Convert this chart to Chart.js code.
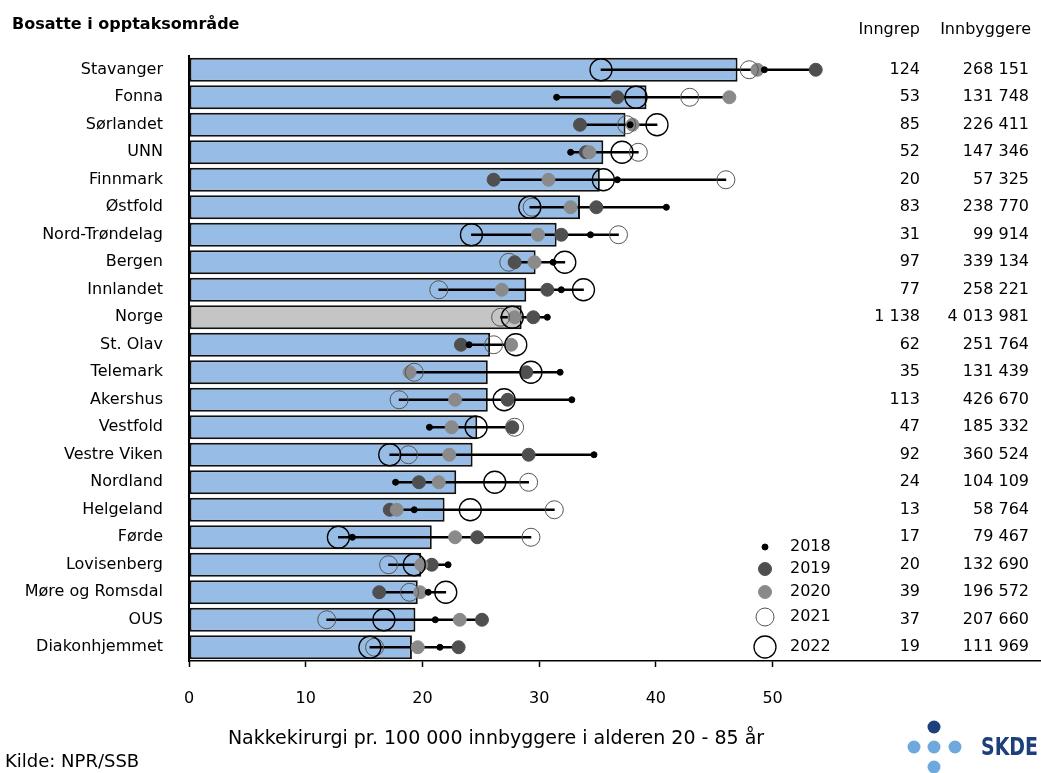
<!DOCTYPE html>
<html>
<head>
<meta charset="utf-8">
<script src="https://cdn.jsdelivr.net/npm/chart.js@4.4.1/dist/chart.umd.min.js"></script>
<style>
  body { margin: 0; background: #fff; }
</style>
</head>
<body>
<canvas id="myChart" width="1041" height="773"></canvas>
<script>
var labels = ['Stavanger', 'Fonna', 'Sørlandet', 'UNN', 'Finnmark', 'Østfold', 'Nord-Trøndelag', 'Bergen',
  'Innlandet', 'Norge', 'St. Olav', 'Telemark', 'Akershus', 'Vestfold', 'Vestre Viken', 'Nordland',
  'Helgeland', 'Førde', 'Lovisenberg', 'Møre og Romsdal', 'OUS', 'Diakonhjemmet'];

// rate per 100 000, average over the period (bars)
var rate = [47.0, 39.2, 37.4, 35.5, 35.2, 33.5, 31.5, 29.7, 28.9, 28.5, 25.8, 25.6, 25.6, 24.7, 24.3, 22.9, 21.9, 20.8, 19.9, 19.6, 19.4, 19.1];

// yearly rates
var y2018 = [49.3, 31.5, 37.8, 32.7, 36.7, 40.9, 34.4, 31.2, 31.9, 30.7, 24.0, 31.8, 32.8, 20.6, 34.7, 17.7, 19.3, 14.0, 22.2, 20.5, 21.1, 21.5];
var y2019 = [53.7, 36.7, 33.5, 34.0, 26.1, 34.9, 31.9, 27.9, 30.7, 29.5, 23.3, 28.9, 27.3, 27.7, 29.1, 19.7, 17.2, 24.7, 20.8, 16.3, 25.1, 23.1];
var y2020 = [48.7, 46.3, 38.0, 34.3, 30.8, 32.7, 29.9, 29.6, 26.8, 27.9, 27.6, 18.9, 22.8, 22.5, 22.3, 21.4, 17.8, 22.8, 19.9, 19.8, 23.2, 19.6];
var y2021 = [48.0, 42.9, 37.5, 38.5, 46.0, 29.4, 36.8, 27.4, 21.4, 26.7, 26.1, 19.3, 18.0, 27.9, 18.8, 29.1, 31.3, 29.3, 17.1, 18.9, 11.8, 15.9];
var y2022 = [35.3, 38.3, 40.1, 37.1, 35.5, 29.2, 24.2, 32.2, 33.8, 27.7, 28.0, 29.3, 27.0, 24.6, 17.2, 26.2, 24.1, 12.8, 19.3, 22.0, 16.7, 15.5];

var inngrep = [124, 53, 85, 52, 20, 83, 31, 97, 77, 1138, 62, 35, 113, 47, 92, 24, 13, 17, 20, 39, 37, 19];
var innbyggere = [268151, 131748, 226411, 147346, 57325, 238770, 99914, 339134, 258221, 4013981, 251764, 131439,
  426670, 185332, 360524, 104109, 58764, 79467, 132690, 196572, 207660, 111969];

var xTicks = [0, 10, 20, 30, 40, 50];

var FONT = '"DejaVu Sans", sans-serif';

function fmt(n) {
  return String(n).replace(/\B(?=(\d{3})+(?!\d))/g, ' ');
}

function pts(arr) {
  return arr.map(function(v, i) { return { x: v, y: labels[i] }; });
}

// min-max line for each row
var spread = labels.map(function(l, i) {
  var v = [y2018[i], y2019[i], y2020[i], y2021[i], y2022[i]];
  return [Math.min.apply(null, v), Math.max.apply(null, v)];
});

var barColors = labels.map(function(l) { return l == 'Norge' ? '#c5c5c5' : '#97bde6'; });

function yearSet(label, data, r, fill, stroke, bw, order) {
  return {
    type: 'line',
    label: label,
    data: pts(data),
    showLine: false,
    pointRadius: r,
    pointHoverRadius: r,
    pointBackgroundColor: fill,
    pointBorderColor: stroke,
    pointBorderWidth: bw,
    order: order
  };
}

var pointSets = [
  yearSet('2018', y2018, 3, '#000', '#000', 1, 1),
  yearSet('2019', y2019, 6.5, '#4f4f4f', '#4f4f4f', 1, 5),
  yearSet('2020', y2020, 6.5, '#8a8a8a', '#8a8a8a', 1, 4),
  yearSet('2021', y2021, 9, 'rgba(0,0,0,0)', '#555', 1, 3),
  yearSet('2022', y2022, 11, 'rgba(0,0,0,0)', '#000', 1.3, 2)
];

var legendY = [547, 569, 592, 617, 647];

var extras = {
  id: 'extras',
  afterDraw: function(chart) {
    var ctx = chart.ctx;
    var ys = chart.scales.y;
    ctx.save();
    ctx.fillStyle = '#000';
    ctx.textBaseline = 'middle';

    ctx.font = 'bold 16px ' + FONT;
    ctx.textAlign = 'left';
    ctx.fillText('Bosatte i opptaksområde', 12, 25);

    ctx.font = '16px ' + FONT;
    ctx.textAlign = 'right';
    ctx.fillText('Inngrep', 920, 30);
    ctx.fillText('Innbyggere', 1031, 30);
    labels.forEach(function(l, i) {
      var py = ys.getPixelForValue(i);
      ctx.fillText(fmt(inngrep[i]), 920, py);
      ctx.fillText(fmt(innbyggere[i]), 1029, py);
    });

    // legend
    ctx.textAlign = 'left';
    pointSets.forEach(function(ds, i) {
      ctx.beginPath();
      ctx.arc(765, legendY[i], ds.pointRadius, 0, Math.PI * 2);
      ctx.fillStyle = ds.pointBackgroundColor;
      ctx.fill();
      ctx.lineWidth = ds.pointBorderWidth;
      ctx.strokeStyle = ds.pointBorderColor;
      ctx.stroke();
      ctx.fillStyle = '#000';
      ctx.fillText(ds.label, 790, legendY[i]);
    });

    // axis title and source
    ctx.font = '19px ' + FONT;
    ctx.textAlign = 'center';
    ctx.fillText('Nakkekirurgi pr. 100 000 innbyggere i alderen 20 - 85 år', 496, 739);
    ctx.font = '18px ' + FONT;
    ctx.textAlign = 'left';
    ctx.fillText('Kilde: NPR/SSB', 5, 762);

    // SKDE logo
    ctx.fillStyle = '#1d3f7a';
    ctx.beginPath(); ctx.arc(934, 727, 6.5, 0, Math.PI * 2); ctx.fill();
    ctx.fillStyle = '#6fa8dc';
    [[914, 747], [934, 747], [955, 747], [934, 767]].forEach(function(p) {
      ctx.beginPath(); ctx.arc(p[0], p[1], 6.5, 0, Math.PI * 2); ctx.fill();
    });
    ctx.fillStyle = '#1d3f7a';
    ctx.font = 'bold 25px "DejaVu Sans Condensed", ' + FONT;
    ctx.fillText('SKDE', 981, 748, 57);
    ctx.restore();
  }
};

var ctx = document.getElementById('myChart').getContext('2d');
var chart = new Chart(ctx, {
  data: {
    labels: labels,
    datasets: [{
      type: 'bar',
      label: 'Rate',
      data: rate,
      indexAxis: 'y',
      grouped: false,
      backgroundColor: barColors,
      borderColor: '#111',
      borderWidth: 2,
      borderSkipped: false,
      barPercentage: 0.87,
      categoryPercentage: 1,
      order: 10
    }, {
      type: 'bar',
      label: 'Spenn',
      data: spread,
      indexAxis: 'y',
      grouped: false,
      backgroundColor: '#000',
      barThickness: 2,
      order: 9
    }].concat(pointSets)
  },
  options: {
    responsive: false,
    animation: false,
    layout: { autoPadding: false, padding: { top: 56, left: 0, right: 0, bottom: 0 } },
    plugins: {
      legend: { display: false },
      tooltip: { enabled: false }
    },
    scales: {
      x: {
        type: 'linear',
        min: 0,
        max: 73,
        afterBuildTicks: function(s) {
          s.ticks = xTicks.map(function(v) { return { value: v }; });
        },
        afterFit: function(s) {
          s.height = 112;
          s.paddingRight = 0;
          s.paddingLeft = 0;
        },
        ticks: { color: '#000', font: { family: FONT, size: 16 }, padding: 22, maxRotation: 0 },
        grid: { drawOnChartArea: false, tickLength: 6, color: '#000', tickWidth: 1.5 },
        border: { color: '#000', width: 1.5 }
      },
      y: {
        type: 'category',
        offset: true,
        afterFit: function(s) { s.width = 189; },
        ticks: { color: '#000', font: { family: FONT, size: 16 }, padding: 26 },
        grid: { display: false, drawTicks: false },
        border: { color: '#000', width: 2 }
      }
    }
  },
  plugins: [extras]
});
</script>
</body>
</html>
